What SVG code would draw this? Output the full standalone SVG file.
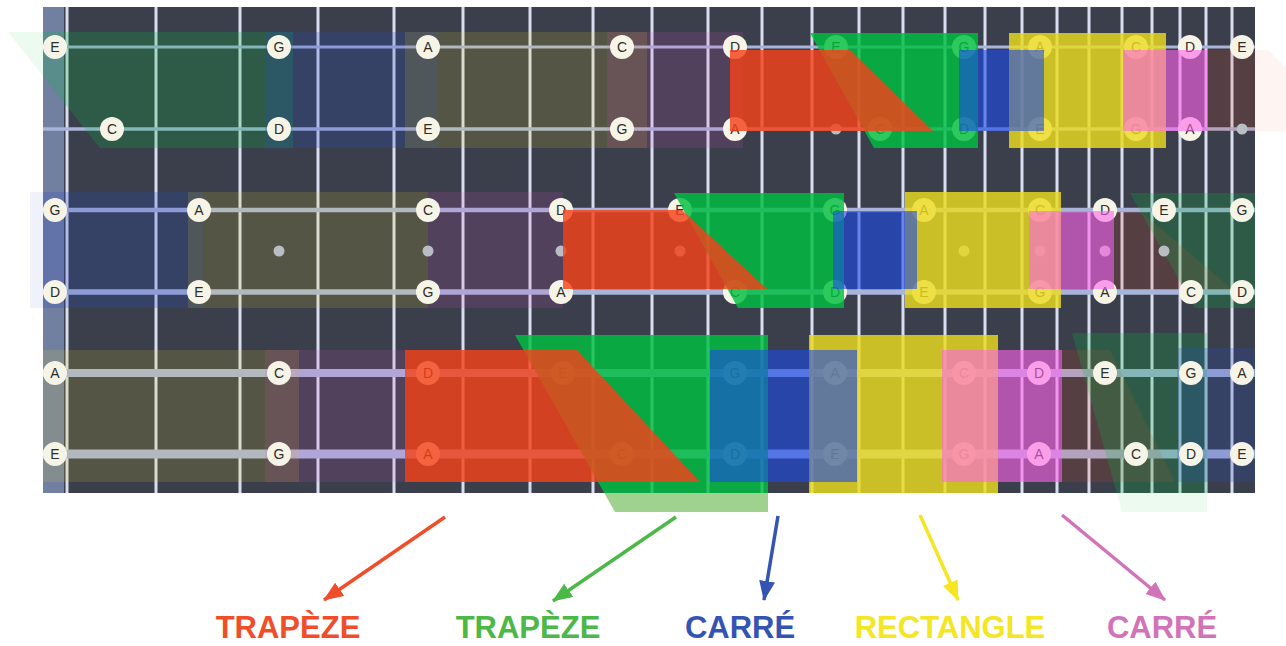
<svg xmlns="http://www.w3.org/2000/svg" width="1286" height="646" viewBox="0 0 1286 646">
<style>
.board{fill:#3a3f4b}
.nut{fill:#717fa1}
.fret{stroke:#d9ddf0;stroke-width:3}
.str{stroke:#a9b4da;fill:none}
.dot{fill:#b9bec4}
.note circle{fill:#f6f4e6}
.note text{font-family:"Liberation Sans",Arial,sans-serif;font-size:14px;fill:#2c2c2c;text-anchor:middle}
.gG{fill:#00bf41;opacity:.22}.gB{fill:#2848c8;opacity:.22}.gY{fill:#e8da20;opacity:.15}.gP{fill:#e050c8;opacity:.15}.gR{fill:#f0401a;opacity:.15}
.pale{opacity:.35}
.mY{fill:#ecdc20;opacity:.82}.mG{fill:#00bf41;opacity:.82}.mR{fill:#f4421a;opacity:.82}.mB{fill:#1c4be9;opacity:.6}.mP{fill:#ff64eb;opacity:.6}
.arr{stroke-width:3.5;fill:none}
.lbl{font-family:"Liberation Sans",Arial,Helvetica,sans-serif;font-weight:bold;font-size:31px;text-anchor:middle}
</style>
<defs>
<clipPath id="bc"><rect x="43" y="7" width="1212" height="486"/></clipPath>
<marker id="ahR" viewBox="0 0 20 16" refX="19" refY="8" markerWidth="20" markerHeight="16" orient="auto" markerUnits="userSpaceOnUse"><path d="M0,0 L20,8 L0,16 z" fill="#f04e2a"/></marker>
<marker id="ahG" viewBox="0 0 20 16" refX="19" refY="8" markerWidth="20" markerHeight="16" orient="auto" markerUnits="userSpaceOnUse"><path d="M0,0 L20,8 L0,16 z" fill="#4cb848"/></marker>
<marker id="ahB" viewBox="0 0 20 16" refX="19" refY="8" markerWidth="20" markerHeight="16" orient="auto" markerUnits="userSpaceOnUse"><path d="M0,0 L20,8 L0,16 z" fill="#3454b4"/></marker>
<marker id="ahY" viewBox="0 0 20 16" refX="19" refY="8" markerWidth="20" markerHeight="16" orient="auto" markerUnits="userSpaceOnUse"><path d="M0,0 L20,8 L0,16 z" fill="#f4e525"/></marker>
<marker id="ahP" viewBox="0 0 20 16" refX="19" refY="8" markerWidth="20" markerHeight="16" orient="auto" markerUnits="userSpaceOnUse"><path d="M0,0 L20,8 L0,16 z" fill="#d273b9"/></marker>
</defs>

<!-- off-board pale parts -->
<g id="offboard">
<polygon points="515,335 768,335 768,512 615,512" fill="#9ed28e"/>
<g class="pale">
<polygon class="gG" points="8,32 293,32 293,148 100,148"/>
<rect class="gB" x="30" y="192" width="173" height="116"/>
<polygon class="gR" points="1207,50 1268,50 1350,131 1207,131"/>
<polygon class="gG" points="1072,333 1207,333 1207,512 1122,512"/>
</g>
</g>

<!-- fretboard -->
<g id="fretboard">
<rect class="board" x="43" y="7" width="1212" height="486"/>
<rect class="nut" x="43" y="7" width="21" height="486"/>
<g class="fret">
<line x1="67" y1="7" x2="67" y2="493"/><line x1="156" y1="7" x2="156" y2="493"/><line x1="240" y1="7" x2="240" y2="493"/><line x1="318" y1="7" x2="318" y2="493"/><line x1="394" y1="7" x2="394" y2="493"/><line x1="463" y1="7" x2="463" y2="493"/><line x1="530" y1="7" x2="530" y2="493"/><line x1="593" y1="7" x2="593" y2="493"/><line x1="652" y1="7" x2="652" y2="493"/><line x1="708" y1="7" x2="708" y2="493"/><line x1="762" y1="7" x2="762" y2="493"/><line x1="812" y1="7" x2="812" y2="493"/><line x1="859" y1="7" x2="859" y2="493"/><line x1="903" y1="7" x2="903" y2="493"/><line x1="945" y1="7" x2="945" y2="493"/><line x1="985" y1="7" x2="985" y2="493"/><line x1="1022" y1="7" x2="1022" y2="493"/><line x1="1057" y1="7" x2="1057" y2="493"/><line x1="1089" y1="7" x2="1089" y2="493"/><line x1="1122" y1="7" x2="1122" y2="493"/><line x1="1152" y1="7" x2="1152" y2="493"/><line x1="1180" y1="7" x2="1180" y2="493"/><line x1="1206" y1="7" x2="1206" y2="493"/><line x1="1232" y1="7" x2="1232" y2="493"/>
</g>
<g class="str">
<line x1="43" y1="47" x2="1255" y2="47" stroke-width="3"/>
<line x1="43" y1="129" x2="1255" y2="129" stroke-width="3.5"/>
<line x1="43" y1="210" x2="1255" y2="210" stroke-width="4.5"/>
<line x1="43" y1="292" x2="1255" y2="292" stroke-width="5.5"/>
<line x1="43" y1="373" x2="1255" y2="373" stroke-width="8"/>
<line x1="43" y1="454" x2="1255" y2="454" stroke-width="9"/>
</g>
</g>

<!-- faint repeated shapes on the board -->
<g id="ghosts" clip-path="url(#bc)">
<polygon class="gG" points="8,32 293,32 293,148 100,148"/>
<rect class="gB" x="265" y="32" width="173" height="116"/>
<rect class="gY" x="405" y="32" width="242" height="116"/>
<rect class="gP" x="607" y="32" width="136" height="116"/>
<polygon class="gR" points="1207,50 1268,50 1350,131 1207,131"/>
<rect class="gB" x="30" y="192" width="173" height="116"/>
<rect class="gY" x="188" y="192" width="240" height="116"/>
<rect class="gP" x="428" y="192" width="135" height="116"/>
<polygon class="gR" points="1113,211 1140,211 1232,289 1113,289"/>
<polygon class="gG" points="1130,193 1255,193 1255,308 1195,308"/>
<rect class="gY" x="43" y="350" width="256" height="132"/>
<rect class="gP" x="265" y="350" width="140" height="132"/>
<polygon class="gR" points="1062,350 1110,350 1175,482 1062,482"/>
<polygon class="gG" points="1072,333 1207,333 1207,512 1122,512"/>
<rect class="gB" x="1177" y="348" width="80" height="134"/>
</g>

<g id="markers" class="dot">
<circle cx="836" cy="129" r="5.5"/><circle cx="1242" cy="129" r="5.5"/>
<circle cx="279" cy="251" r="5.5"/><circle cx="428" cy="251" r="5.5"/><circle cx="561" cy="251" r="5.5"/><circle cx="680" cy="251" r="5.5"/><circle cx="964" cy="251" r="5.5"/><circle cx="1040" cy="251" r="5.5"/><circle cx="1105" cy="251" r="5.5"/><circle cx="1164" cy="251" r="5.5"/>
</g>

<!-- notes -->
<g id="notes">
<g id="n1-1" class="note"><circle cx="55" cy="47" r="12"/><text x="55" y="52">E</text></g>
<g id="n1-2" class="note"><circle cx="279" cy="47" r="12"/><text x="279" y="52">G</text></g>
<g id="n1-3" class="note"><circle cx="428" cy="47" r="12"/><text x="428" y="52">A</text></g>
<g id="n1-4" class="note"><circle cx="622" cy="47" r="12"/><text x="622" y="52">C</text></g>
<g id="n1-5" class="note"><circle cx="735" cy="47" r="12"/><text x="735" y="52">D</text></g>
<g id="n1-6" class="note"><circle cx="836" cy="47" r="12"/><text x="836" y="52">E</text></g>
<g id="n1-7" class="note"><circle cx="964" cy="47" r="12"/><text x="964" y="52">G</text></g>
<g id="n1-8" class="note"><circle cx="1040" cy="47" r="12"/><text x="1040" y="52">A</text></g>
<g id="n1-9" class="note"><circle cx="1136" cy="47" r="12"/><text x="1136" y="52">C</text></g>
<g id="n1-10" class="note"><circle cx="1190" cy="47" r="12"/><text x="1190" y="52">D</text></g>
<g id="n1-11" class="note"><circle cx="1242" cy="47" r="12"/><text x="1242" y="52">E</text></g>

<g id="n2-1" class="note"><circle cx="112" cy="129" r="12"/><text x="112" y="134">C</text></g>
<g id="n2-2" class="note"><circle cx="279" cy="129" r="12"/><text x="279" y="134">D</text></g>
<g id="n2-3" class="note"><circle cx="428" cy="129" r="12"/><text x="428" y="134">E</text></g>
<g id="n2-4" class="note"><circle cx="622" cy="129" r="12"/><text x="622" y="134">G</text></g>
<g id="n2-5" class="note"><circle cx="735" cy="129" r="12"/><text x="735" y="134">A</text></g>
<g id="n2-6" class="note"><circle cx="880" cy="129" r="12"/><text x="880" y="134">C</text></g>
<g id="n2-7" class="note"><circle cx="964" cy="129" r="12"/><text x="964" y="134">D</text></g>
<g id="n2-8" class="note"><circle cx="1040" cy="129" r="12"/><text x="1040" y="134">E</text></g>
<g id="n2-9" class="note"><circle cx="1136" cy="129" r="12"/><text x="1136" y="134">G</text></g>
<g id="n2-10" class="note"><circle cx="1190" cy="129" r="12"/><text x="1190" y="134">A</text></g>

<g id="n3-1" class="note"><circle cx="55" cy="210" r="12"/><text x="55" y="215">G</text></g>
<g id="n3-2" class="note"><circle cx="199" cy="210" r="12"/><text x="199" y="215">A</text></g>
<g id="n3-3" class="note"><circle cx="428" cy="210" r="12"/><text x="428" y="215">C</text></g>
<g id="n3-4" class="note"><circle cx="561" cy="210" r="12"/><text x="561" y="215">D</text></g>
<g id="n3-5" class="note"><circle cx="680" cy="210" r="12"/><text x="680" y="215">E</text></g>
<g id="n3-6" class="note"><circle cx="835" cy="210" r="12"/><text x="835" y="215">G</text></g>
<g id="n3-7" class="note"><circle cx="924" cy="210" r="12"/><text x="924" y="215">A</text></g>
<g id="n3-8" class="note"><circle cx="1040" cy="210" r="12"/><text x="1040" y="215">C</text></g>
<g id="n3-9" class="note"><circle cx="1105" cy="210" r="12"/><text x="1105" y="215">D</text></g>
<g id="n3-10" class="note"><circle cx="1164" cy="210" r="12"/><text x="1164" y="215">E</text></g>
<g id="n3-11" class="note"><circle cx="1242" cy="210" r="12"/><text x="1242" y="215">G</text></g>

<g id="n4-1" class="note"><circle cx="55" cy="292" r="12"/><text x="55" y="297">D</text></g>
<g id="n4-2" class="note"><circle cx="199" cy="292" r="12"/><text x="199" y="297">E</text></g>
<g id="n4-3" class="note"><circle cx="428" cy="292" r="12"/><text x="428" y="297">G</text></g>
<g id="n4-4" class="note"><circle cx="561" cy="292" r="12"/><text x="561" y="297">A</text></g>
<g id="n4-5" class="note"><circle cx="735" cy="292" r="12"/><text x="735" y="297">C</text></g>
<g id="n4-6" class="note"><circle cx="835" cy="292" r="12"/><text x="835" y="297">D</text></g>
<g id="n4-7" class="note"><circle cx="924" cy="292" r="12"/><text x="924" y="297">E</text></g>
<g id="n4-8" class="note"><circle cx="1040" cy="292" r="12"/><text x="1040" y="297">G</text></g>
<g id="n4-9" class="note"><circle cx="1105" cy="292" r="12"/><text x="1105" y="297">A</text></g>
<g id="n4-10" class="note"><circle cx="1191" cy="292" r="12"/><text x="1191" y="297">C</text></g>
<g id="n4-11" class="note"><circle cx="1242" cy="292" r="12"/><text x="1242" y="297">D</text></g>

<g id="n5-1" class="note"><circle cx="55" cy="373" r="12"/><text x="55" y="378">A</text></g>
<g id="n5-2" class="note"><circle cx="279" cy="373" r="12"/><text x="279" y="378">C</text></g>
<g id="n5-3" class="note"><circle cx="428" cy="373" r="12"/><text x="428" y="378">D</text></g>
<g id="n5-4" class="note"><circle cx="563" cy="373" r="12"/><text x="563" y="378">E</text></g>
<g id="n5-5" class="note"><circle cx="735" cy="373" r="12"/><text x="735" y="378">G</text></g>
<g id="n5-6" class="note"><circle cx="835" cy="373" r="12"/><text x="835" y="378">A</text></g>
<g id="n5-7" class="note"><circle cx="964" cy="373" r="12"/><text x="964" y="378">C</text></g>
<g id="n5-8" class="note"><circle cx="1039" cy="373" r="12"/><text x="1039" y="378">D</text></g>
<g id="n5-9" class="note"><circle cx="1105" cy="373" r="12"/><text x="1105" y="378">E</text></g>
<g id="n5-10" class="note"><circle cx="1191" cy="373" r="12"/><text x="1191" y="378">G</text></g>
<g id="n5-11" class="note"><circle cx="1242" cy="373" r="12"/><text x="1242" y="378">A</text></g>

<g id="n6-1" class="note"><circle cx="55" cy="454" r="12"/><text x="55" y="459">E</text></g>
<g id="n6-2" class="note"><circle cx="279" cy="454" r="12"/><text x="279" y="459">G</text></g>
<g id="n6-3" class="note"><circle cx="428" cy="454" r="12"/><text x="428" y="459">A</text></g>
<g id="n6-4" class="note"><circle cx="622" cy="454" r="12"/><text x="622" y="459">C</text></g>
<g id="n6-5" class="note"><circle cx="735" cy="454" r="12"/><text x="735" y="459">D</text></g>
<g id="n6-6" class="note"><circle cx="835" cy="454" r="12"/><text x="835" y="459">E</text></g>
<g id="n6-7" class="note"><circle cx="964" cy="454" r="12"/><text x="964" y="459">G</text></g>
<g id="n6-8" class="note"><circle cx="1039" cy="454" r="12"/><text x="1039" y="459">A</text></g>
<g id="n6-9" class="note"><circle cx="1136" cy="454" r="12"/><text x="1136" y="459">C</text></g>
<g id="n6-10" class="note"><circle cx="1191" cy="454" r="12"/><text x="1191" y="459">D</text></g>
<g id="n6-11" class="note"><circle cx="1242" cy="454" r="12"/><text x="1242" y="459">E</text></g>
</g>

<!-- highlighted shapes -->
<g id="shapes" clip-path="url(#bc)">
<g id="shape-yellow"><rect class="mY" x="1009" y="33" width="157" height="115"/><rect class="mY" x="905" y="192" width="156" height="116"/><rect class="mY" x="809" y="335" width="189" height="160"/></g>
<g id="shape-green"><polygon class="mG" points="810,33 978,33 978,148 874,148"/><polygon class="mG" points="674,193 844,193 844,308 738,308"/><polygon class="mG" points="515,335 768,335 768,512 615,512"/></g>
<g id="shape-red"><polygon class="mR" points="730,50 850,50 933,131 730,131"/><polygon class="mR" points="563,210 682,210 767,289 563,289"/><polygon class="mR" points="405,350 577,350 700,482 405,482"/></g>
<g id="shape-blue"><rect class="mB" x="959" y="50" width="85" height="81"/><rect class="mB" x="833" y="211" width="84" height="78"/><rect class="mB" x="710" y="350" width="147" height="132"/></g>
<g id="shape-pink"><rect class="mP" x="1123" y="50" width="84" height="81"/><rect class="mP" x="1029" y="211" width="85" height="78"/><rect class="mP" x="942" y="350" width="120" height="132"/></g>
</g>

<!-- connectors -->
<g id="connectors">
<line class="arr" x1="445" y1="517" x2="324" y2="600" stroke="#f04e2a" marker-end="url(#ahR)"/>
<line class="arr" x1="676" y1="517" x2="553" y2="601" stroke="#4cb848" marker-end="url(#ahG)"/>
<line class="arr" x1="778" y1="516" x2="764" y2="600" stroke="#3454b4" marker-end="url(#ahB)"/>
<line class="arr" x1="920" y1="515" x2="958" y2="600" stroke="#f4e525" marker-end="url(#ahY)"/>
<line class="arr" x1="1062" y1="515" x2="1165" y2="600" stroke="#d273b9" marker-end="url(#ahP)"/>
</g>

<!-- labels -->
<g id="label-red"><text class="lbl" x="288" y="638" fill="#f04e2a">TRAPÈZE</text></g>
<g id="label-green"><text class="lbl" x="528" y="638" fill="#4cb848">TRAPÈZE</text></g>
<g id="label-blue"><text class="lbl" x="740" y="638" fill="#3454b4">CARRÉ</text></g>
<g id="label-yellow"><text class="lbl" x="950" y="638" fill="#f4e525">RECTANGLE</text></g>
<g id="label-pink"><text class="lbl" x="1162" y="638" fill="#d273b9">CARRÉ</text></g>
</svg>
